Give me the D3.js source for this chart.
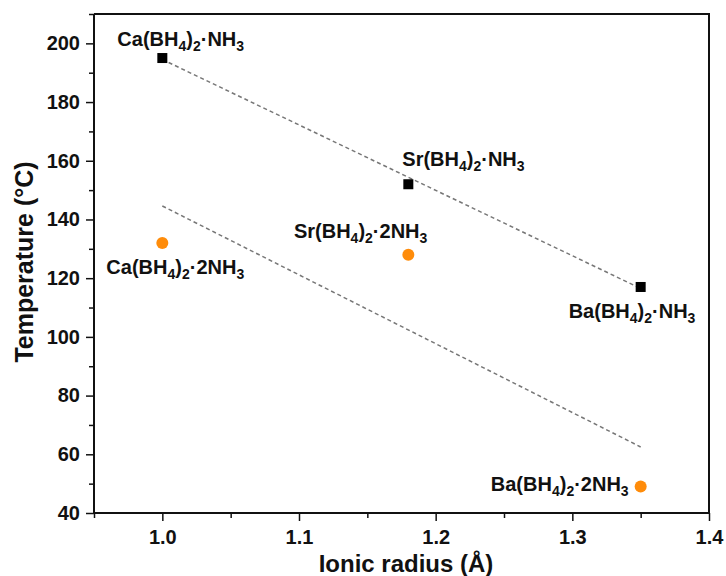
<!DOCTYPE html>
<html>
<head>
<meta charset="utf-8">
<script src="https://cdn.jsdelivr.net/npm/d3@7"></script>
<style>
  body { margin: 0; background: #fff; }
  text { font-family: "Liberation Sans", Arial, sans-serif; font-weight: bold; fill: #111; }
</style>
</head>
<body>
<div id="chart"></div>
<script>
// data
const monoNames = ["Ca", "Sr", "Ba"];
const monoRadius = [1.0, 1.18, 1.35];
const monoTemp = [195, 152, 117];

const diNames = ["Ca", "Sr", "Ba"];
const diRadius = [1.0, 1.18, 1.35];
const diTemp = [132, 128, 49];

// dashed guide lines (end points)
const monoFit = [[1.0, 194.5], [1.35, 116.5]];
const diFit = [[1.0, 144.6], [1.35, 62.5]];

const xTicks = [1.0, 1.1, 1.2, 1.3, 1.4];
const yTicks = [40, 60, 80, 100, 120, 140, 160, 180, 200];

const width = 726, height = 576;
const plotL = 94, plotR = 709, plotT = 14, plotB = 513;

const svg = d3.select("#chart")
  .append("svg")
  .attr("width", width)
  .attr("height", height);

const x = d3.scaleLinear().domain([0.95, 1.4]).range([plotL, plotR]);
const y = d3.scaleLinear().domain([40, 210]).range([plotB, plotT]);

// frame top/right
svg.append("path")
  .attr("d", `M${plotL},${plotT}H${plotR}V${plotB}`)
  .attr("fill", "none")
  .attr("stroke", "#111")
  .attr("stroke-width", 2);

// minor ticks
svg.append("g")
  .attr("transform", `translate(0,${plotB})`)
  .call(d3.axisBottom(x).tickValues([0.95, 1.05, 1.15, 1.25, 1.35]).tickSize(5).tickFormat(""))
  .call(g => g.select(".domain").remove())
  .selectAll("line").attr("stroke", "#111").attr("stroke-width", 1.5);

svg.append("g")
  .attr("transform", `translate(${plotL},0)`)
  .call(d3.axisLeft(y).tickValues(d3.range(50, 211, 20)).tickSize(5).tickFormat(""))
  .call(g => g.select(".domain").remove())
  .selectAll("line").attr("stroke", "#111").attr("stroke-width", 1.5);

// major axes
const xAxis = svg.append("g")
  .attr("transform", `translate(0,${plotB})`)
  .call(d3.axisBottom(x).tickValues(xTicks).tickSize(8).tickPadding(9).tickFormat(d3.format(".1f")).tickSizeOuter(0));

const yAxis = svg.append("g")
  .attr("transform", `translate(${plotL},0)`)
  .call(d3.axisLeft(y).tickValues(yTicks).tickSize(8).tickPadding(6).tickSizeOuter(0));

[xAxis, yAxis].forEach(g => {
  g.select(".domain").attr("stroke", "#111").attr("stroke-width", 2);
  g.selectAll(".tick line").attr("stroke", "#111").attr("stroke-width", 1.5);
  g.selectAll(".tick text")
    .attr("fill", "#111")
    .style("font-size", "20px")
    .style("font-family", "'Liberation Sans', Arial, sans-serif")
    .style("font-weight", "bold");
});
// axis lines span the full plot
xAxis.select(".domain").attr("d", `M${plotL},0H${plotR}`);
yAxis.select(".domain").attr("d", `M0,${plotT}V${plotB}`);

// axis titles
svg.append("text")
  .attr("x", 406)
  .attr("y", 572)
  .attr("text-anchor", "middle")
  .style("font-size", "24px")
  .text("Ionic radius (Å)");

svg.append("text")
  .attr("transform", "translate(33,262) rotate(-90)")
  .attr("text-anchor", "middle")
  .style("font-size", "25px")
  .text("Temperature (°C)");

// dashed guides
const line = d3.line().x(d => x(d[0])).y(d => y(d[1]));
[monoFit, diFit].forEach(f => {
  svg.append("path")
    .attr("d", line(f))
    .attr("fill", "none")
    .attr("stroke", "#777")
    .attr("stroke-width", 1.5)
    .attr("stroke-dasharray", "4,3");
});

const mono = monoNames.map((n, i) => ({ name: n, r: monoRadius[i], t: monoTemp[i] }));
const di = diNames.map((n, i) => ({ name: n, r: diRadius[i], t: diTemp[i] }));

// markers
svg.selectAll("rect.mono")
  .data(mono)
  .enter()
  .append("rect")
  .attr("class", "mono")
  .attr("x", d => x(d.r) - 5)
  .attr("y", d => y(d.t) - 5)
  .attr("width", 10)
  .attr("height", 10)
  .attr("fill", "#000");

svg.selectAll("circle.di")
  .data(di)
  .enter()
  .append("circle")
  .attr("class", "di")
  .attr("cx", d => x(d.r))
  .attr("cy", d => y(d.t))
  .attr("r", 6)
  .attr("fill", "#ff8c0a");

// label placement (pixel offsets from the marker)
const monoPos = [
  { dx: -45, dy: -12, anchor: "start" },
  { dx: -6, dy: -18, anchor: "start" },
  { dx: -72, dy: 31, anchor: "start" }
];
const diPos = [
  { dx: -56, dy: 31, anchor: "start" },
  { dx: 19, dy: -17, anchor: "end" },
  { dx: -12, dy: 4, anchor: "end" }
];

function formula(sel, metal, n) {
  sel.append("tspan").text(metal + "(BH");
  sel.append("tspan").attr("dy", 5).style("font-size", "14px").text("4");
  sel.append("tspan").attr("dy", -5).text(")");
  sel.append("tspan").attr("dy", 5).style("font-size", "14px").text("2");
  sel.append("tspan").attr("dy", -5).text("·" + n + "NH");
  sel.append("tspan").attr("dy", 5).style("font-size", "14px").text("3");
}

mono.forEach((d, i) => {
  const p = monoPos[i];
  const t = svg.append("text")
    .attr("x", x(d.r) + p.dx)
    .attr("y", y(d.t) + p.dy)
    .attr("text-anchor", p.anchor)
    .style("font-size", "20px");
  formula(t, d.name, "");
});

di.forEach((d, i) => {
  const p = diPos[i];
  const t = svg.append("text")
    .attr("x", x(d.r) + p.dx)
    .attr("y", y(d.t) + p.dy)
    .attr("text-anchor", p.anchor)
    .style("font-size", "20px");
  formula(t, d.name, "2");
});
</script>
</body>
</html>
